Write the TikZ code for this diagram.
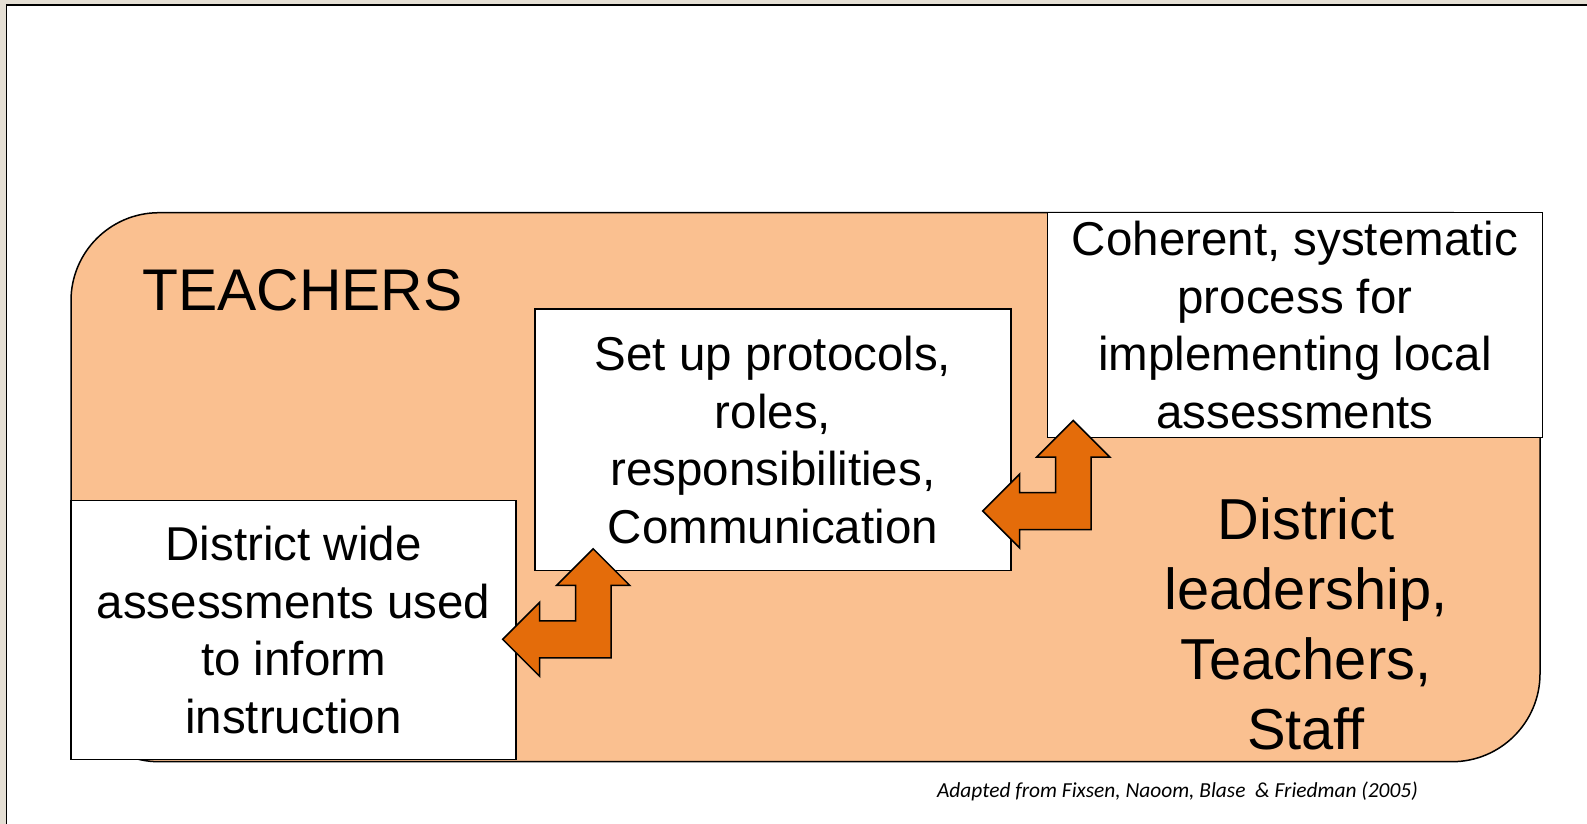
\documentclass[tikz,border=0pt]{standalone}
\usepackage{fontspec}
\setmainfont{Liberation Sans}
\newfontfamily\notefont{Carlito}
\usepackage{tikz}
\definecolor{bandbeige}{RGB}{229,223,212}
\definecolor{teampeach}{RGB}{250,192,144}
\definecolor{arroworange}{RGB}{228,108,10}

\begin{document}
\begin{tikzpicture}[x=1pt, y=-1pt,
  box/.style={draw, line width=1.5pt, fill=white, inner sep=0pt, align=center,
    font=\fontsize{47.5pt}{57.5pt}\selectfont},
  bigtext/.style={inner sep=0pt, align=center, font=\fontsize{57.8pt}{70pt}\selectfont},
  bentarrow/.pic={
    \filldraw[line width=1.5pt, fill=arroworange, line join=miter]
      (0,0) -- (37,-37) -- (37,-18.5) -- (73,-18.5) -- (73,-54) -- (54,-54)
      -- (90.5,-90.5) -- (127,-54) -- (108.5,-54) -- (108.5,18.5) -- (37,18.5)
      -- (37,37) -- cycle;
  }]
  \clip (0,0) rectangle (1587,824);
  \fill[bandbeige] (0,0) rectangle (1587,824);
  \draw[line width=1.5pt, fill=white] (6.7,5) rectangle (1600,840);

  % team area
  \draw[line width=1.5pt, fill=teampeach, rounded corners=88pt] (71,212.7) rectangle (1540,761.7);
  \node[anchor=base west, inner sep=0pt, font=\fontsize{58.8pt}{70pt}\selectfont] (teachers) at (142,310) {TEACHERS};
  \node[bigtext, anchor=north] (staff) at (1306,497) {District\\leadership,\\Teachers,\\Staff};

  % steps
  \node[box, minimum width=445pt, minimum height=258.6pt] (wide) at (293.5,630) {District wide\\assessments used\\to inform\\instruction};
  \node[box, minimum width=475.7pt, minimum height=261.8pt] (roles) at (772.9,439.8) {Set up protocols,\\roles,\\responsibilities,\\Communication};
  \node[box, minimum width=495.4pt, minimum height=224.6pt] (process) at (1295,325) {Coherent, systematic\\process for\\implementing local\\assessments};

  \pic (lowarrow) at (502.7,639.3) {bentarrow};
  \pic (higharrow) at (982.7,511) {bentarrow};

  \node[anchor=base east, inner sep=0pt, font=\notefont\itshape\fontsize{21.4pt}{25pt}\selectfont] (source) at (1418,797) {Adapted from Fixsen, Naoom, Blase\ \ \& Friedman (2005)};
\end{tikzpicture}
\end{document}
